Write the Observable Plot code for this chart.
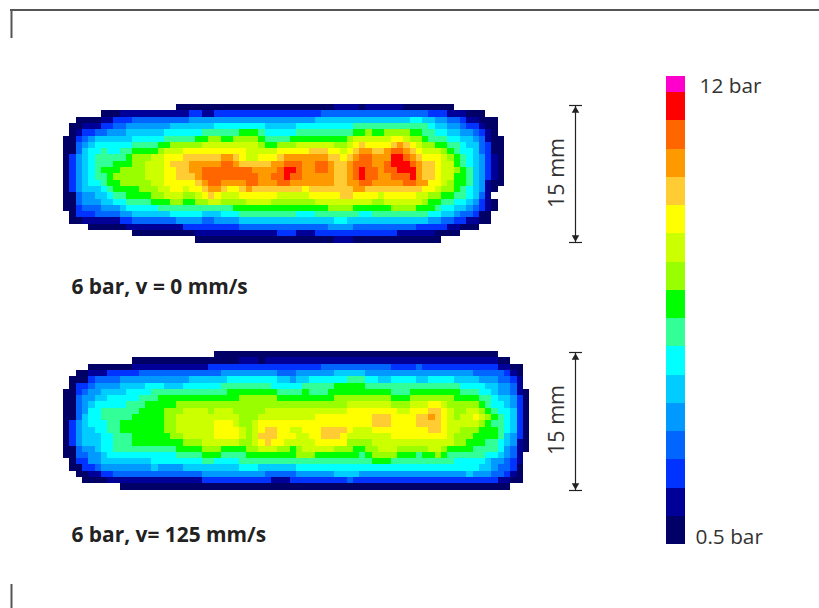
<!DOCTYPE html>
<html>
<head>
<meta charset="utf-8">
<style>html,body{margin:0;padding:0;background:#fff}svg{display:block}</style>
<script src="https://cdn.jsdelivr.net/npm/d3@7"></script>
<script src="https://cdn.jsdelivr.net/npm/@observablehq/plot@0.6"></script>
</head>
<body>
<div id="chart"></div>
<script>
// Pressure classes, lowest to highest
const levelCodes = ["0","1","2","3","4","5","6","7","8","9","a","b","c","d","e","f","g"];
const levelColours = ["#000066","#000099","#0033ff","#0066ff","#0099ff","#00ccff","#00ffff","#33ff99","#00ff00","#99ff00","#ccff00","#ffff00","#ffcc33","#ff9900","#ff6600","#ff0000","#ff00cc"];

// Each row: "column:class" runs, the last number is the column where the row ends.
const mapStatic = [
"18:0 43:1 47:0 48:1 54:0 62",
"6:0 9:1 20:2 22:1 24:2 41:3 58:2 61:1 64:0 67",
"2:0 6:1 8:2 11:3 20:4 40:5 55:6 57:5 59:4 61:3 63:2 64:1 66:0 69",
"1:0 3:1 6:2 8:3 10:4 17:5 24:6 32:5 37:6 46:7 58:6 59:5 61:4 63:3 64:2 66:1 67:0 69",
"1:0 2:1 3:2 5:3 7:4 10:5 16:6 22:7 28:8 31:7 32:6 37:7 46:8 48:9 49:8 51:9 55:8 57:7 59:6 61:5 63:4 65:3 66:2 67:1 68:0 69",
"0:0 2:2 3:3 4:4 5:5 11:6 16:7 21:8 23:9 25:8 27:9 31:8 32:7 36:8 45:9 46:a 52:b 54:a 55:9 57:8 58:7 61:6 63:5 65:4 66:3 67:1 68:0 70",
"0:0 2:3 3:4 4:5 5:6 11:7 15:8 17:9 22:a 31:9 32:8 34:9 37:a 43:9 45:a 46:b 47:c 48:b 52:c 53:d 54:c 55:b 56:a 57:9 59:8 61:7 63:6 64:5 66:3 67:2 68:0 70",
"0:0 2:3 3:5 4:6 6:7 7:6 9:7 11:8 15:9 16:a 19:b 29:a 34:b 39:c 42:b 44:a 45:b 46:c 47:d 49:c 51:d 52:e 54:d 55:c 56:b 57:a 60:9 61:8 62:7 63:6 65:5 66:3 67:2 68:0 70",
"0:0 1:2 2:4 3:5 4:6 5:7 10:8 11:9 14:a 16:b 19:c 25:d 27:c 28:b 29:a 31:b 34:c 35:d 42:c 44:b 45:c 46:d 47:e 49:d 52:f 54:e 55:d 56:c 57:b 60:a 61:9 62:8 63:7 64:6 65:5 66:4 67:2 68:1 69:0 70",
"0:0 1:2 2:4 3:5 4:6 5:7 8:8 11:9 13:a 16:b 17:c 20:d 25:e 27:d 28:c 33:d 35:e 38:d 40:e 42:d 43:c 45:d 46:e 49:d 51:e 52:f 55:e 56:d 57:c 59:b 60:a 62:8 63:7 64:6 65:5 66:4 67:2 68:1 69:0 70",
"0:0 1:2 2:4 3:5 4:6 5:7 6:8 9:9 13:a 16:b 18:c 20:d 22:e 30:d 34:e 35:f 37:e 38:d 40:e 42:d 43:c 45:d 46:e 47:f 48:e 50:d 51:e 53:f 56:d 57:c 59:b 60:a 62:9 63:8 64:7 65:5 66:4 67:2 68:1 69:0 70",
"0:0 1:2 2:4 3:5 4:6 5:7 7:8 8:9 13:a 16:b 18:c 21:d 22:e 31:d 33:e 35:f 36:e 38:d 43:c 45:d 46:e 47:f 48:e 50:d 52:e 55:f 56:d 57:c 59:b 60:a 62:8 64:7 65:5 66:4 67:2 68:1 69:0 70",
"0:0 1:2 2:4 3:5 4:6 6:7 7:8 9:9 14:a 16:b 21:c 22:d 23:e 25:d 29:e 31:d 34:e 36:d 43:c 45:d 47:e 49:d 54:e 56:d 58:b 60:a 61:9 62:8 64:7 65:5 66:4 67:1 68:0 70",
"0:0 1:2 2:4 3:5 6:6 7:7 8:8 12:9 15:a 17:b 19:a 20:b 22:c 23:d 25:c 26:b 28:c 29:d 30:c 38:b 39:c 46:d 48:c 57:b 59:a 60:9 62:8 63:7 64:6 65:5 66:4 67:1 68:0 69",
"0:0 2:3 3:4 5:5 7:6 8:7 10:8 14:9 16:a 19:9 21:a 22:b 23:c 24:b 25:a 28:b 34:a 39:b 44:c 46:b 50:a 51:b 56:a 58:9 60:8 62:7 64:6 65:5 66:3 67:1 68",
"0:0 2:3 3:4 6:5 8:6 10:7 14:8 17:9 19:8 21:9 23:a 25:9 29:a 33:9 40:a 49:9 51:a 57:9 58:8 60:7 62:6 64:5 65:4 66:2 67:1 68:0 69",
"0:0 2:2 3:3 6:4 9:5 10:6 15:7 27:8 42:9 46:8 52:9 56:8 59:7 60:6 62:5 64:4 65:3 66:2 67:1 68:0 69",
"1:0 2:2 5:3 9:4 11:5 17:6 22:5 25:6 28:7 37:6 40:7 47:6 49:7 58:6 60:5 62:4 63:3 65:2 66:0 68",
"1:0 3:1 9:2 11:3 18:4 22:3 24:4 28:5 43:6 45:5 58:4 60:3 62:2 64:1 66:0 68",
"4:0 10:1 19:2 28:3 42:4 46:3 56:2 61:1 63:0 66",
"11:0 21:1 34:2 37:1 40:2 53:1 59:0 63",
"21:0 43:1 46:0 60"
];

const mapMoving = [
"24:0 69",
"11:0 28:1 31:0 32:1 69:0 71",
"4:0 11:1 23:2 41:3 52:2 56:3 57:2 69:1 71:0 73",
"2:0 4:1 7:2 12:3 25:4 34:3 37:4 43:5 48:4 65:3 70:2 71:1 72:0 73",
"1:0 4:2 5:3 9:4 20:5 26:6 34:5 36:4 37:5 39:6 45:7 48:6 50:5 52:6 56:5 58:6 62:5 66:4 69:3 71:2 72:1 73",
"1:0 2:2 4:3 5:4 9:5 13:6 16:5 19:6 25:7 33:6 38:7 43:8 48:7 63:6 67:5 69:4 71:3 72:1 73",
"0:0 2:2 3:3 4:4 6:5 10:6 14:7 26:8 34:7 38:8 39:7 42:8 52:7 55:8 63:7 66:6 68:5 69:4 71:3 72:1 73:0 74",
"0:0 2:3 3:4 5:5 7:6 12:7 15:8 28:9 34:8 43:9 52:8 55:9 62:8 66:7 68:6 69:5 71:4 72:2 73:0 74",
"0:0 2:3 3:4 4:5 5:6 10:7 13:8 18:9 45:a 52:9 55:a 58:b 60:a 61:9 66:8 67:7 68:6 70:5 71:4 72:2 73:0 74",
"0:0 2:3 3:4 4:6 6:7 12:8 16:9 19:a 23:9 24:a 27:9 32:a 45:b 53:a 55:b 58:c 60:b 61:a 62:9 64:a 66:9 67:8 68:7 69:6 71:5 72:2 73:0 74",
"0:0 2:3 3:5 4:6 6:7 11:8 16:9 18:a 28:9 31:a 40:b 49:c 52:b 56:c 58:d 59:c 60:b 61:a 62:9 63:a 65:b 66:a 67:9 68:8 69:7 70:6 71:5 72:2 73:0 74",
"0:0 1:2 2:4 3:5 4:6 7:7 9:8 16:9 18:a 24:b 27:a 28:9 30:a 31:b 49:c 52:b 56:c 60:b 61:a 66:9 67:8 68:7 70:6 71:5 72:2 73:0 74",
"0:0 1:2 2:4 3:5 5:6 7:7 9:8 16:9 18:a 24:b 28:a 29:9 30:a 31:b 32:c 34:b 36:a 38:b 41:c 45:b 46:a 49:b 58:c 60:b 61:a 63:9 66:8 69:7 70:6 71:5 72:2 73:0 74",
"0:0 1:2 2:4 3:5 6:6 8:7 11:8 17:9 19:a 24:b 28:a 29:9 30:a 31:c 34:b 37:a 39:b 41:c 44:b 45:a 52:b 61:a 62:9 65:8 69:7 70:5 71:4 72:2 73:0 74",
"0:0 1:2 2:4 3:5 6:6 8:7 11:8 19:9 22:a 28:9 30:a 31:b 32:c 33:b 35:a 40:b 45:9 49:a 62:9 64:8 67:7 69:6 70:5 71:4 72:1 73:0 74",
"0:0 2:3 3:4 5:5 6:6 8:7 18:8 22:9 25:8 29:9 31:a 34:9 36:8 37:9 38:a 43:9 46:8 48:9 50:a 53:9 58:a 60:9 61:8 65:7 69:6 70:4 71:3 72:1 73:0 74",
"0:0 2:3 4:4 6:5 7:6 18:7 22:8 25:7 29:8 37:9 40:8 47:7 48:8 49:9 53:8 56:7 57:8 59:9 60:8 61:7 67:6 69:5 70:4 71:3 72:1 73",
"1:0 2:2 4:4 6:5 14:6 22:7 24:6 28:7 49:8 52:7 62:6 67:5 68:4 70:3 71:2 72:1 73",
"1:0 3:2 5:3 6:4 14:5 15:4 19:5 28:6 31:5 37:6 66:5 68:4 69:3 71:2 72:0 73",
"2:0 4:1 6:2 8:3 22:4 32:3 37:4 43:5 47:4 64:5 65:4 68:3 70:2 71:1 72:0 73",
"3:0 7:1 22:2 33:1 36:2 45:3 46:2 69:1 71:0 73",
"9:0 71"
];

const mapLabels = ["6 bar, v = 0 mm/s", "6 bar, v= 125 mm/s"];
const scaleLabels = ["12 bar", "0.5 bar"];
const widthLabel = "15 mm";

function expand(rows) {
  const cells = [];
  rows.forEach((row, r) => {
    const t = row.split(" ");
    for (let i = 0; i < t.length - 1; i++) {
      const [a, level] = t[i].split(":");
      const end = parseInt(t[i + 1], 10);
      for (let c = +a; c < end; c++) cells.push({r, c, level});
    }
  });
  return cells;
}

const cell = 6.3, mapX = 63, topY = 104, botY = 351;
const heat = (rows, y0) => Plot.rect(expand(rows), {
  x1: d => mapX + d.c * cell, x2: d => mapX + (d.c + 1) * cell,
  y1: d => y0 + d.r * cell, y2: d => y0 + (d.r + 1) * cell,
  fill: "level", shapeRendering: "crispEdges"
});

// Colour scale bar
const barBottom = 544, barStep = 28.25, barTop = 76;
const legendBar = Plot.rect(levelCodes, {
  x1: () => 666, x2: () => 685,
  y1: (d, i) => barBottom - i * barStep,
  y2: (d, i) => i === levelCodes.length - 1 ? barTop : barBottom - (i + 1) * barStep,
  fill: d => d, shapeRendering: "crispEdges"
});

const ink = "#333";
const font = "'Open Sans', 'Noto Sans', sans-serif";
const label = (s, x, y, extra) => Plot.text([s], {x: [x], y: [y], text: d => d, fontFamily: font, fill: ink, textAnchor: "start", lineAnchor: "middle", fontSize: 20.8, ...extra});

const dim = (y1, y2, ly) => [
  Plot.ruleX([575], {y1: [y1], y2: [y2], stroke: "#222", strokeWidth: 1.2}),
  Plot.ruleY([y1, y2], {x1: [569, 569], x2: [582, 582], stroke: "#222", strokeWidth: 1.2}),
  Plot.dot([0], {x: [575], y: [y1 + 5], symbol: "triangle2", r: 3.6, fill: "#222", stroke: "none"}),
  Plot.dot([0], {x: [575], y: [y2 - 5], symbol: "triangle2", rotate: 180, r: 3.6, fill: "#222", stroke: "none"}),
  Plot.text([widthLabel], {x: [557], y: [ly], text: d => d, rotate: -90, fontFamily: font, fill: ink, fontSize: 21.5})
];

const frame = "#555";
const chart = Plot.plot({
  width: 819, height: 608, margin: 0,
  style: {background: "#fff"},
  x: {domain: [0, 819], range: [0, 819], axis: null},
  y: {domain: [0, 608], range: [0, 608], axis: null},
  color: {type: "ordinal", domain: levelCodes, range: levelColours},
  marks: [
    Plot.ruleY([9.5], {x1: [10], x2: [819], stroke: frame, strokeWidth: 2}),
    Plot.ruleX([11], {y1: [9], y2: [38], stroke: frame, strokeWidth: 2}),
    Plot.ruleX([11], {y1: [584], y2: [608], stroke: frame, strokeWidth: 2}),
    heat(mapStatic, topY),
    heat(mapMoving, botY),
    legendBar,
    ...dim(105, 242, 172.5),
    ...dim(352, 490, 419.5),
    label(mapLabels[0], 71, 287, {fontWeight: "bold", fontSize: 20.9, fill: "#222"}),
    label(mapLabels[1], 71, 535, {fontWeight: "bold", fontSize: 20.9, fill: "#222"}),
    label(scaleLabels[0], 699, 86),
    label(scaleLabels[1], 695, 537)
  ]
});
document.getElementById("chart").appendChild(chart);
</script>
</body>
</html>
